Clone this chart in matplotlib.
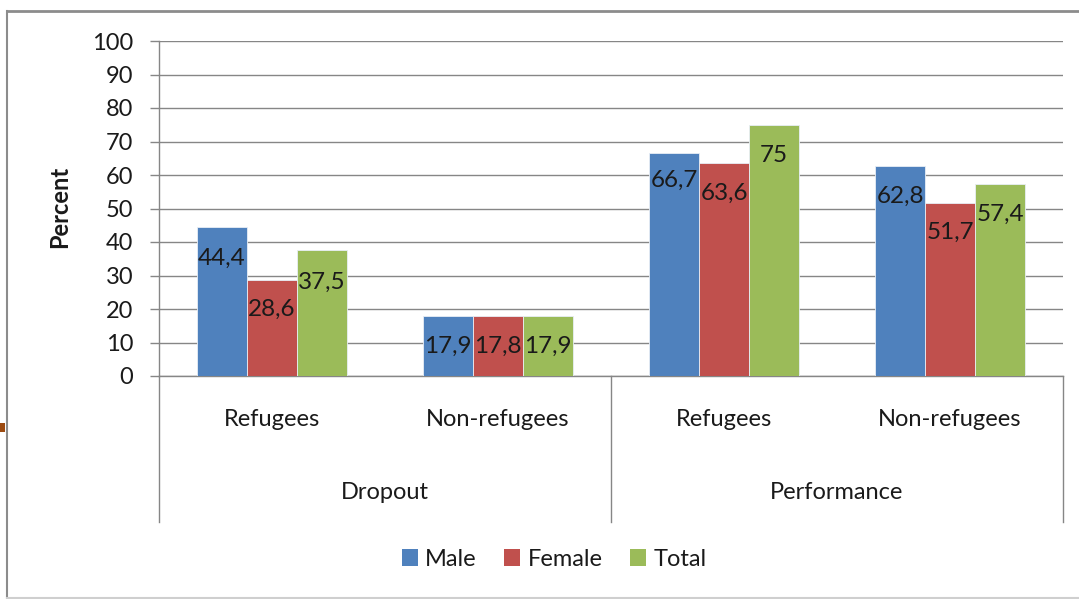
import matplotlib
matplotlib.use("Agg")
import matplotlib.pyplot as plt
import numpy as np
from matplotlib.lines import Line2D
from matplotlib.patches import Rectangle, Patch
import matplotlib.transforms as mtransforms

# ---- data ----
groups = ["Dropout", "Performance"]
subcats = ["Refugees", "Non-refugees", "Refugees", "Non-refugees"]
series = ["Male", "Female", "Total"]
male = [44.4, 17.9, 66.7, 62.8]
female = [28.6, 17.8, 63.6, 51.7]
total = [37.5, 17.9, 75.0, 57.4]
male_lbl = ["44,4", "17,9", "66,7", "62,8"]
female_lbl = ["28,6", "17,8", "63,6", "51,7"]
total_lbl = ["37,5", "17,9", "75", "57,4"]
yticks = [0, 10, 20, 30, 40, 50, 60, 70, 80, 90, 100]

# label vertical positions (data units, manually placed in the original)
male_lbl_y = [35.1, 8.9, 58.3, 53.7]
female_lbl_y = [19.9, 8.9, 54.4, 43.0]
total_lbl_y = [28.0, 8.9, 65.9, 48.3]

colors = ["#4F81BD", "#C0504D", "#9BBB59"]
FONT = "Lato"
TXT = "#1a1a1a"
GRID = "#868686"

W, H = 1079, 599
fig = plt.figure(figsize=(W / 100, H / 100), dpi=100)
plt.rcParams["font.family"] = [FONT, "DejaVu Sans"]

def fx(px):
    return px / W

def fy(py):
    return 1 - py / H

left, right, top, bottom = 159, 1063, 41, 376
ax = fig.add_axes([fx(left), fy(bottom), fx(right - left), (bottom - top) / H])

x = np.arange(len(subcats))
bw = 50 / 226
vals = [male, female, total]
lbls = [male_lbl, female_lbl, total_lbl]
lys = [male_lbl_y, female_lbl_y, total_lbl_y]
for i, (v, c) in enumerate(zip(vals, colors)):
    xs = x + (i - 1) * bw
    ax.bar(xs, v, width=bw, color=c, edgecolor="#e8eef6", linewidth=0.6, zorder=3)
    for xi, t, yy in zip(xs, lbls[i], lys[i]):
        ax.text(xi, yy, t, ha="center", va="center", fontsize=17.5, color=TXT, zorder=4)

ax.set_xlim(-0.5, len(subcats) - 0.5)
ax.set_ylim(0, 100)
ax.set_yticks(yticks)
ax.set_yticklabels([str(t) for t in yticks], fontsize=17, color=TXT)
ax.tick_params(axis="y", length=6.5, width=1, color=GRID, pad=12)
ax.set_xticks([])
ax.yaxis.grid(True, color=GRID, linewidth=1, zorder=0)
ax.set_axisbelow(True)
for s in ["top", "right"]:
    ax.spines[s].set_visible(False)
ax.spines["left"].set_color(GRID)
ax.spines["bottom"].set_color(GRID)
ax.spines["left"].set_linewidth(1)
ax.spines["bottom"].set_linewidth(1)

# multi-level category axis
trans = mtransforms.blended_transform_factory(ax.transData, ax.transAxes)
ah = bottom - top
for xv in [-0.5, 1.5, 3.5]:
    ax.add_line(Line2D([xv, xv], [0, -(522 - bottom) / ah], transform=trans,
                       color=GRID, linewidth=1, clip_on=False))
for xi, s in zip(x, subcats):
    ax.text(xi, -(419 - bottom) / ah, s, transform=trans, ha="center", va="center",
            fontsize=17, color=TXT)
for gi, g in enumerate(groups):
    ax.text(gi * 2 + 0.5, -(492 - bottom) / ah, g, transform=trans, ha="center",
            va="center", fontsize=17, color=TXT)

# y label
fig.text(fx(60), fy(207), "Percent", rotation=90, ha="center", va="center",
         fontsize=17, fontweight="bold", color=TXT)

# legend
handles = [Patch(facecolor=c, edgecolor="none") for c in colors]
leg = fig.legend(handles, series, loc="center", bbox_to_anchor=(fx(554), fy(559)),
                 ncol=3, frameon=False, fontsize=17, handlelength=0.7, handleheight=0.7,
                 handletextpad=0.3, columnspacing=1.15, labelcolor=TXT)

# outer border
fig.add_artist(Line2D([fx(7), 1.0], [fy(11), fy(11)], transform=fig.transFigure,
                      color="#8c8c8c", linewidth=2))
fig.add_artist(Line2D([fx(7), fx(7)], [fy(11), fy(599)], transform=fig.transFigure,
                      color="#8c8c8c", linewidth=1.5))
fig.add_artist(Line2D([fx(7), 1.0], [fy(597.5), fy(597.5)], transform=fig.transFigure,
                      color="#cfcfcf", linewidth=1.5))
fig.patches.append(Rectangle((0, fy(432)), fx(5), 9 / H, transform=fig.transFigure,
                             facecolor="#9c4a10", edgecolor="none"))

fig.savefig("out.png", dpi=100)
